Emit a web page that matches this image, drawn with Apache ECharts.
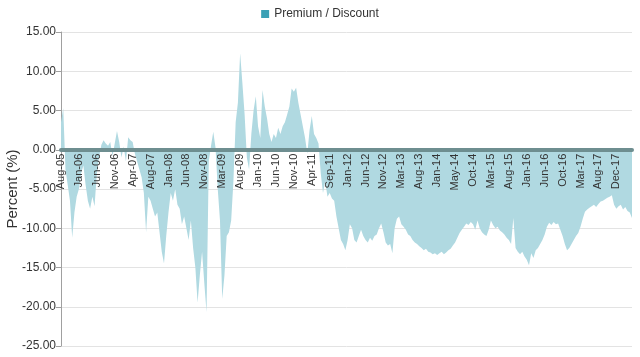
<!DOCTYPE html>
<html>
<head>
<meta charset="utf-8">
<script src="https://cdn.jsdelivr.net/npm/echarts@6/dist/echarts.min.js"></script>
<style>html,body{margin:0;padding:0;background:#fff}#c{width:640px;height:357px}</style>
</head>
<body>
<div id="c"></div>
<script>
// Tick labels (one every 8 data points)
const tickLabels = ["Aug-05","Jan-06","Jun-06","Nov-06","Apr-07","Aug-07","Jan-08","Jun-08","Nov-08","Mar-09","Aug-09","Jan-10","Jun-10","Nov-10","Apr-11","Sep-11","Jan-12","Jun-12","Nov-12","Mar-13","Aug-13","Jan-14","May-14","Oct-14","Mar-15","Aug-15","Jan-16","Jun-16","Oct-16","Mar-17","Aug-17","Dec-17"];
const pointsPerLabel = 8;

// Premium / Discount (%) values
const values2005to2007 = [
  3.5, 5.3, -2.5, -4.5, -6.5, -11.2, -8.0, -6.0,
  -5.0, -3.0, -2.0, -4.5, -6.5, -7.5, -6.0, -7.2,
  -3.0, -1.0, 0.6, 1.2, 0.8, 0.5, 1.0, -0.8,
  0.8, 2.4, 1.0, -1.0, 0.4, -1.5, 1.6, 1.2,
  1.0, -0.5, -1.5, -2.5, -3.5, -5.5, -10.5, -6.0,
  -6.5, -7.5, -8.5, -8.0, -10.5, -13.0, -14.5, -11.0
];
const values2008to2009 = [
  -8.0, -5.5, -6.5, -5.0, -7.0, -7.5, -9.5, -8.5,
  -10.0, -11.5, -9.0, -12.5, -15.0, -19.5, -16.0, -13.0,
  -17.0, -20.7, -1.5, 0.5, 2.3, 0.3, -5.0, -9.0,
  -19.0, -16.0, -11.0, -10.5, -9.0, -4.0, 3.5, 6.0,
  12.3, 8.5, 4.5, -1.0, -2.5, 2.0, 5.0, 6.8
];
const values2010to2011 = [
  3.0, 1.5, 7.6, 5.5, 4.0, 2.0, 1.0, 2.0,
  1.5, 2.8, 2.0, 3.0, 3.5, 4.5, 5.5, 7.8,
  7.4, 7.9, 6.0, 4.5, 3.0, 1.5, -0.5, 2.5,
  4.3, 2.0, 1.5, 0.8, -3.0, -5.5, -4.0, -6.0,
  -5.5, -6.2, -6.5, -8.5, -10.0, -11.5, -12.0, -12.8
];
const values2012to2014 = [
  -11.5, -9.5, -10.0, -11.5, -11.8, -11.0, -10.2, -11.0,
  -11.5, -11.8, -11.2, -11.6, -11.0, -10.8, -10.0, -9.4,
  -10.5, -11.8, -12.2, -12.0, -13.2, -10.0, -8.8, -8.5,
  -9.5, -9.8, -10.2, -10.8, -11.0, -11.5, -11.8, -12.0,
  -12.3, -12.5, -12.8, -12.6, -13.0, -13.1, -13.3, -13.2,
  -13.4, -13.2, -13.0, -13.3, -13.1, -12.8, -12.6, -12.2,
  -11.8, -11.2, -10.6, -10.2, -9.8, -9.4, -9.6, -9.2,
  -9.5, -10.2, -9.0, -10.0, -10.5, -10.8, -11.0, -10.2
];
const values2015to2018 = [
  -9.0, -9.6, -10.0, -9.8, -10.3, -10.5, -10.8, -11.2,
  -11.5, -12.0, -8.7, -12.5, -13.0, -13.3, -13.0, -13.6,
  -14.0, -14.7, -13.2, -13.8, -12.8, -12.5, -12.0, -11.5,
  -10.8, -9.8, -9.3, -9.6, -9.2, -9.5, -9.4, -10.2,
  -11.0, -12.0, -12.8, -12.5, -12.0, -11.5, -11.0, -10.6,
  -9.8, -8.8, -7.9, -7.6, -7.4, -7.2, -7.0, -7.3,
  -6.9, -6.6, -6.5, -6.3, -6.1, -6.0, -5.8, -7.0,
  -7.5, -7.2, -7.0, -7.6, -7.3, -7.8, -8.0, -8.7
];
const yTicks = { min: -25, max: 15, step: 5 };

const seriesValues = [].concat(values2005to2007, values2008to2009, values2010to2011, values2012to2014, values2015to2018);
const categories = [];
tickLabels.forEach(function (lab) {
  for (let j = 0; j < pointsPerLabel; j++) categories.push(j === 0 ? lab : lab + ' \u00b7' + j);
});

// plot geometry
const H = 357, plotTop = 32, plotBottomPx = 346, plotLeft = 61, plotRight = 632;
const zeroPx = plotTop + (yTicks.max - 0) / (yTicks.max - yTicks.min) * (plotBottomPx - plotTop);

const font = 'Liberation Sans, Arial, sans-serif';
const chart = echarts.init(document.getElementById('c'), null, { renderer: 'canvas' });
chart.setOption({
  animation: false,
  color: ['#3aa0b5'],
  legend: {
    top: 3, left: 'center',
    icon: 'rect', itemWidth: 8, itemHeight: 8, itemGap: 6,
    textStyle: { fontFamily: font, fontSize: 12, color: '#333' },
    data: ['Premium / Discount']
  },
  grid: [
    { left: plotLeft, right: 640 - plotRight, top: plotTop, bottom: H - plotBottomPx, containLabel: false, outerBoundsMode: 'none' },
    { left: plotLeft, right: 640 - plotRight, top: plotTop, bottom: H - zeroPx, containLabel: false, outerBoundsMode: 'none' }
  ],
  xAxis: [
    {
      type: 'category', gridIndex: 0, data: categories, boundaryGap: false,
      axisLine: { show: false }, axisTick: { show: false }, axisLabel: { show: false }, splitLine: { show: false }
    },
    {
      type: 'category', gridIndex: 1, data: categories, boundaryGap: false, position: 'bottom', z: 5,
      axisLine: { show: true, onZero: false, lineStyle: { color: '#6e8e90', width: 4 } },
      axisTick: { show: false },
      axisLabel: {
        interval: pointsPerLabel - 1, rotate: 90, margin: 4,
        fontFamily: font, fontSize: 11, color: '#333'
      },
      splitLine: { show: false }
    }
  ],
  yAxis: [
    {
      type: 'value', gridIndex: 0, min: yTicks.min, max: yTicks.max, interval: yTicks.step,
      name: 'Percent (%)', nameLocation: 'middle', nameGap: 41, nameRotate: 90, nameMoveOverlap: false,
      nameTextStyle: { fontFamily: font, fontSize: 15, color: '#333' },
      axisLine: { show: true, lineStyle: { color: '#a0a0a0', width: 1 } },
      axisTick: { show: true, length: 5, lineStyle: { color: '#a0a0a0' } },
      axisLabel: {
        formatter: function (v) { return v.toFixed(2); },
        fontFamily: font, fontSize: 12, color: '#333', margin: 5
      },
      splitLine: { lineStyle: { color: '#e3e3e3', width: 1 } }
    },
    {
      type: 'value', gridIndex: 1, min: 0, max: 1, show: false,
      axisLine: { show: false }, axisTick: { show: false }, axisLabel: { show: false }, splitLine: { show: false }
    }
  ],
  series: [{
    name: 'Premium / Discount', type: 'line', data: seriesValues,
    xAxisIndex: 0, yAxisIndex: 0,
    showSymbol: false, symbol: 'none',
    lineStyle: { width: 0 },
    areaStyle: { color: '#b0d9e1', opacity: 1 }
  }]
});
</script>
</body>
</html>
